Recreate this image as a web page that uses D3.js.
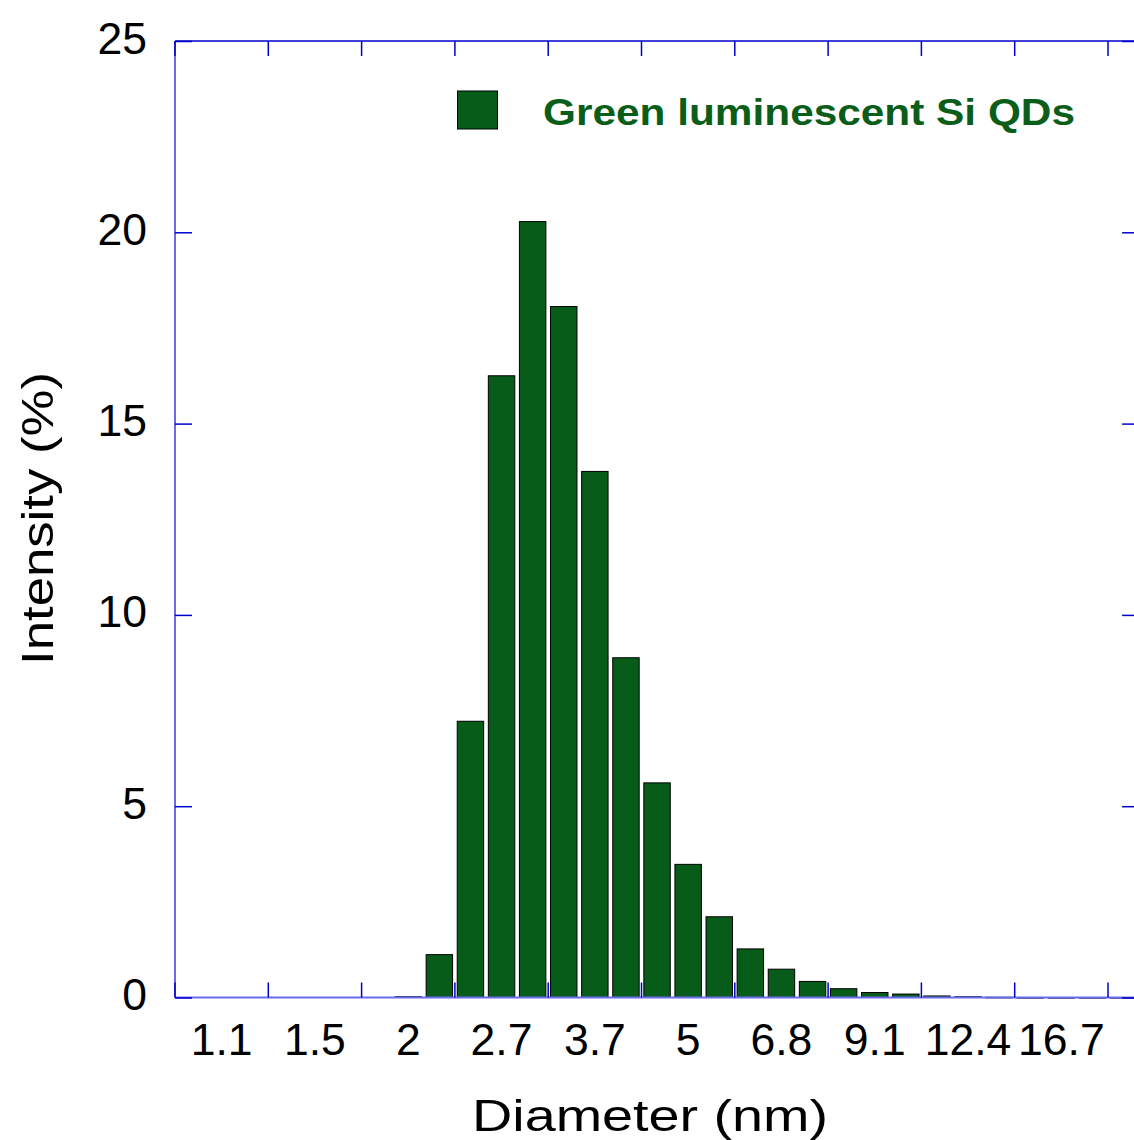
<!DOCTYPE html>
<html>
<head>
<meta charset="utf-8">
<script src="https://cdn.jsdelivr.net/npm/d3@7"></script>
<style>
  html, body { margin: 0; padding: 0; background: #fff; overflow: hidden; }
  svg { display: block; font-family: "Liberation Sans", Arial, sans-serif; }
</style>
</head>
<body>
<svg id="chart" width="1134" height="1140"></svg>
<script>
// Diameter bins (nm) – labelled ones read from the axis, others estimated
const diameters = ["1.0","1.1","1.2","1.35","1.5","1.65","1.8","2","2.2","2.45",
                   "2.7","3.0","3.3","3.7","4.1","4.5","5","5.5","6.1","6.8",
                   "7.5","8.2","9.1","10.1","11.2","12.4","13.7","15.1","16.7","18.5","20.4"];
// Intensity (%) per bin; null = no bar
const intensity = [null,null,null,null,null,null,null,0.02,1.12,7.22,
                   16.25,20.28,18.06,13.75,8.88,5.61,3.48,2.11,1.27,0.74,
                   0.42,0.23,0.13,0.09,0.04,0.02,0.006,0,0,0,0];
const xTickLabels = ["1.1","1.5","2","2.7","3.7","5","6.8","9.1","12.4","16.7"];
const yTicks = [0,5,10,15,20,25];
const seriesName = "Green luminescent Si QDs";

(function () {
const svg = d3.select("#chart");
const pLeft = 175, pTop = 41, pBottom = 997.5;
const step = 31.1;
const pRight = pLeft + step * diameters.length;

const x = d3.scaleBand().domain(diameters).range([pLeft, pRight])
  .paddingInner(0.15).paddingOuter(0.075);
const y = d3.scaleLinear().domain([0, 25]).range([pBottom, pTop]);

const axisBlue = "#0000cc";
const barFill = "#075c1a";

// bars
const data = diameters.map((d, i) => ({ d, v: intensity[i] })).filter(o => o.v !== null);
svg.append("g").selectAll("rect").data(data).join("rect")
  .attr("x", o => x(o.d))
  .attr("width", x.bandwidth())
  .attr("y", o => y(o.v))
  .attr("height", o => Math.max(0.6, y(0) - y(o.v)))
  .attr("fill", barFill)
  .attr("stroke", "#000")
  .attr("stroke-width", 1);

// frame lines
const frame = svg.append("g");
frame.append("line").attr("x1", pLeft).attr("x2", pLeft).attr("y1", pTop).attr("y2", pBottom)
  .attr("stroke", "#6a6aee").attr("stroke-width", 2);
frame.append("line").attr("x1", pLeft).attr("x2", pRight).attr("y1", pBottom).attr("y2", pBottom)
  .attr("stroke", "#6a6aee").attr("stroke-width", 2);
frame.append("line").attr("x1", pLeft).attr("x2", pRight).attr("y1", pTop).attr("y2", pTop)
  .attr("stroke", axisBlue).attr("stroke-width", 1.5);
frame.append("line").attr("x1", pRight).attr("x2", pRight).attr("y1", pTop).attr("y2", pBottom)
  .attr("stroke", axisBlue).attr("stroke-width", 1.5);

// x tick marks at every third bin boundary (top and bottom, inward)
const tickBounds = diameters.filter((d, i) => i % 3 === 0).map(d => x(d) - x.step() * x.paddingInner() / 2);
const xt = svg.append("g");
tickBounds.forEach(b => {
  xt.append("line").attr("x1", b).attr("x2", b).attr("y1", pTop).attr("y2", pTop + 15)
    .attr("stroke", axisBlue).attr("stroke-width", 1.5);
  xt.append("line").attr("x1", b).attr("x2", b).attr("y1", pBottom).attr("y2", pBottom - 15)
    .attr("stroke", axisBlue).attr("stroke-width", 1.5);
});

// x tick labels
svg.append("g").selectAll("text").data(xTickLabels).join("text")
  .attr("x", d => x(d) + x.bandwidth() / 2)
  .attr("y", 1055)
  .attr("text-anchor", "middle")
  .attr("font-size", 44.5)
  .attr("fill", "#000")
  .text(d => d);

// y axis (left) with d3 axis
const yAxis = d3.axisLeft(y).tickValues(yTicks).tickSizeInner(-17).tickSizeOuter(0).tickPadding(28);
const gy = svg.append("g").attr("transform", `translate(${pLeft},0)`).call(yAxis);
gy.select(".domain").remove();
gy.selectAll(".tick line").attr("stroke", axisBlue).attr("stroke-width", 1.5);
gy.selectAll(".tick text").attr("font-size", 44.5).attr("fill", "#000")
  .attr("font-family", "Liberation Sans, Arial, sans-serif").attr("dy", 12);

// right axis ticks
const yAxisR = d3.axisRight(y).tickValues(yTicks).tickSizeInner(-17).tickSizeOuter(0).tickFormat("");
const gyr = svg.append("g").attr("transform", `translate(${pRight},0)`).call(yAxisR);
gyr.select(".domain").remove();
gyr.selectAll(".tick line").attr("stroke", axisBlue).attr("stroke-width", 1.5);

// axis titles (glyphs horizontally wide, as in the reference)
function wideTitle(label, cx, cy, rot, targetLen) {
  const g = svg.append("g").attr("transform", `translate(${cx},${cy}) rotate(${rot})`);
  const t = g.append("text").attr("text-anchor", "middle")
    .attr("font-size", 45).attr("fill", "#000").text(label);
  const s = targetLen / t.node().getComputedTextLength();
  t.attr("transform", `scale(${s},1)`);
}
wideTitle("Diameter (nm)", 650, 1131, 0, 356);
wideTitle("Intensity (%)", 53, 518.5, -90, 293);

// legend
svg.append("rect").attr("x", 457.5).attr("y", 91).attr("width", 40).attr("height", 38)
  .attr("fill", barFill).attr("stroke", "#000").attr("stroke-width", 1);
svg.append("text").attr("x", 543).attr("y", 125).attr("font-size", 37).attr("font-weight", "bold")
  .attr("fill", "#0a5e1a").attr("textLength", 532).attr("lengthAdjust", "spacingAndGlyphs")
  .text(seriesName);
})();
</script>
</body>
</html>
